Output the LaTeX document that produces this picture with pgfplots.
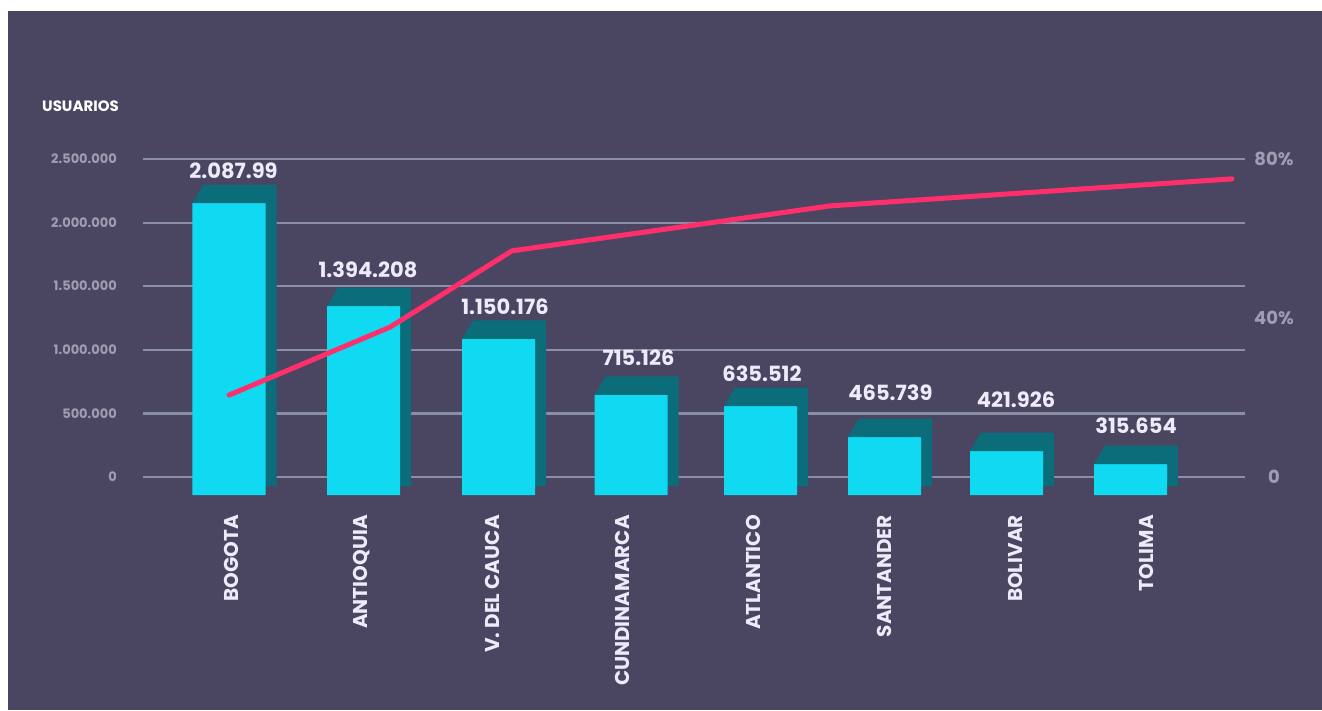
\documentclass[border=0pt]{standalone}
\usepackage{pgfplots}
\pgfplotsset{compat=1.18}
\usepackage{pgfplotstable}
\usepackage{fontspec}
\setmainfont{Poppins}

\definecolor{bg}{HTML}{4A4561}
\definecolor{gridc}{HTML}{8A8EA7}
\definecolor{front}{HTML}{10D9F2}
\definecolor{side}{HTML}{0A6D79}
\definecolor{linec}{HTML}{FF2F6B}
\definecolor{tickc}{HTML}{A09DB2}
\definecolor{valc}{HTML}{EEEAF9}

% visible top of each front face, in left-axis units
\pgfplotstableread{
x      top
229    2154000
363.5  1344000
498.5  1085000
631    645000
760.5  558000
884.5  314000
1006.5 204000
1130.5 102000
}\bars

% value labels (baseline position)
\pgfplotstableread{
x      y       label
233.5  2350600 2.087.99
368    1564500 1.394.208
505    1281400 1.150.176
638.5  880500  715.126
762    746900  635.512
890.5  605300  465.739
1016   550300  421.926
1136   345900  315.654
}\labels

% right axis, percent
\pgfplotstableread{
x    pct
229  20.6
390  37.7
512  56.9
830  68.2
1232 75.0
}\share

% top face of the 3d bars
\pgfdeclareplotmark{topface}{%
  \pgfpathmoveto{\pgfpoint{-36.5pt}{0pt}}%
  \pgfpathlineto{\pgfpoint{-25.5pt}{18.5pt}}%
  \pgfpathlineto{\pgfpoint{47.5pt}{18.5pt}}%
  \pgfpathlineto{\pgfpoint{47.5pt}{0pt}}%
  \pgfpathclose
  \pgfusepathqfill}

\begin{document}
\begin{tikzpicture}
\fill[white] (-143pt,-215pt) rectangle (1179pt,495pt);
\fill[bg] (-135pt,-215pt) rectangle (1179pt,484pt);
\path[use as bounding box] (-143pt,-215pt) rectangle (1179pt,495pt);

\begin{axis}[
    scale only axis,
    width=1102pt, height=336pt,
    xmin=143, xmax=1245,
    ymin=-141509, ymax=2500000,
    clip=false,
    axis line style={draw=none},
    major tick length=0pt,
    ymajorgrids,
    grid style={color=gridc, line width=2.2pt},
    scaled y ticks=false,
    ytick={0,500000,1000000,1500000,2000000,2500000},
    yticklabels={0,500.000,1.000.000,1.500.000,2.000.000,2.500.000},
    ytick pos=left,
    yticklabel style={anchor=east, inner sep=0pt, xshift=-26pt,
        font=\fontsize{13}{13}\selectfont\bfseries, text=tickc},
    xtick={231,362,492,622,753,884,1015,1146},
    xticklabels={BOGOTA,ANTIOQUIA,V. DEL CAUCA,CUNDINAMARCA,ATLANTICO,SANTANDER,BOLIVAR,TOLIMA},
    xtick pos=bottom,
    xticklabel style={rotate=90, anchor=east, inner sep=0pt,
        font=\fontsize{20}{20}\selectfont\bfseries, text=valc},
    xticklabel shift=20pt,
    /pgf/number format/assume math mode=true,
]
% side of the bars
\addplot[ybar, bar width=73pt, bar shift=11pt, fill=side, draw=none, yshift=-9pt]
    table[x=x, y expr=\thisrow{top}+70755] {\bars};
% top faces
\addplot[only marks, mark=topface, fill=side, draw=none]
    table[x=x, y=top] {\bars};
% front faces
\addplot[ybar, bar width=73pt, bar shift=0pt, fill=front, draw=none, yshift=-18pt]
    table[x=x, y expr=\thisrow{top}+141509] {\bars};
% value labels
\addplot[only marks, mark=none, nodes near coords, point meta=explicit symbolic,
    nodes near coords style={anchor=base, inner sep=0pt,
        font=\fontsize{21}{21}\selectfont\bfseries, text=valc}]
    table[x=x, y=y, meta=label] {\labels};
\node[anchor=base west, inner sep=0pt, text=white,
    font=\fontsize{15}{15}\selectfont\bfseries] at (axis cs:42,2869500) {USUARIOS};
\end{axis}

\begin{axis}[
    scale only axis,
    width=1102pt, height=336pt,
    xmin=143, xmax=1245,
    ymin=-4.5283, ymax=80,
    clip=false,
    axis line style={draw=none},
    major tick length=0pt,
    xtick=\empty,
    ytick={0,40,80},
    yticklabels={0,40\%,80\%},
    ytick pos=right,
    yticklabel style={anchor=center, inner sep=0pt, xshift=29pt,
        font=\fontsize{18}{18}\selectfont\bfseries, text=tickc},
]
\addplot[color=linec, line width=5pt, line cap=round, line join=round, mark=none]
    table[x=x, y=pct] {\share};
\end{axis}
\end{tikzpicture}
\end{document}
